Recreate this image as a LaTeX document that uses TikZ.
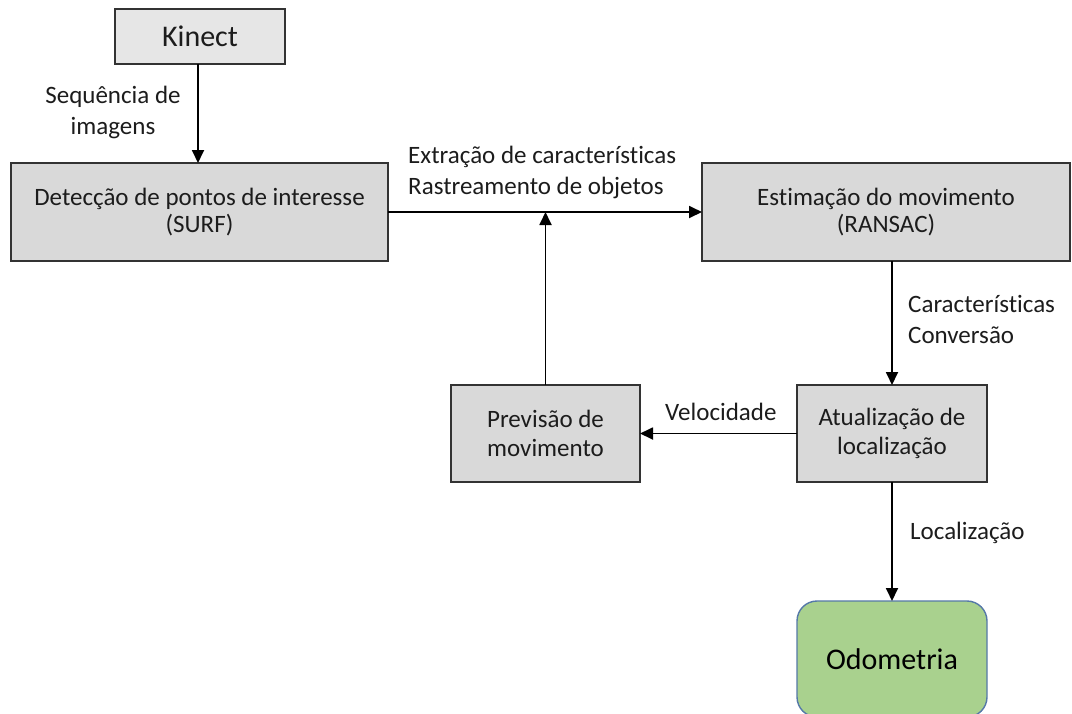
\documentclass[tikz,border=0pt]{standalone}
\usepackage{fontspec}
\setmainfont{Carlito}[Ligatures=NoCommon]
\usetikzlibrary{arrows.meta}

\definecolor{boxgray}{HTML}{D9D9D9}
\definecolor{lightgray}{HTML}{E6E6E6}
\definecolor{edgegray}{HTML}{333333}
\definecolor{odogreen}{HTML}{A9D18E}
\definecolor{odoblue}{HTML}{5578A8}
\definecolor{ink}{HTML}{1C1C1C}

\tikzset{
  procbox/.style={draw=edgegray, fill=boxgray, line width=1.8pt, inner sep=0pt,
    outer sep=0pt, align=center, text=ink, font=\fontsize{25}{28.5}\selectfont},
  flow/.style={line width=1.8pt, draw=black,
    -{Triangle[length=13pt,width=12pt]}},
  lbl/.style={text=ink, inner sep=0pt, font=\fontsize{25}{31}\selectfont}
}

\begin{document}
\begin{tikzpicture}[x=1pt,y=-1pt]
  \useasboundingbox (0,0) rectangle (1072,713);

  % process blocks
  \node[procbox, fill=lightgray, minimum width=170pt, minimum height=55pt,
        font=\fontsize{30}{34}\selectfont] (kin) at (200,36.5) {Kinect};
  \node[procbox, minimum width=377pt, minimum height=98pt] (det) at (199.5,212)
        {\raisebox{-2pt}{Detecção de pontos de interesse}\\(SURF)};
  \node[procbox, minimum width=368pt, minimum height=98pt] (est) at (886,212)
        {\raisebox{-2pt}{Estimação do movimento}\\(RANSAC)};
  \node[procbox, minimum width=189pt, minimum height=97pt] (prev) at (545.5,433.5)
        {Previsão de\\movimento};
  \node[procbox, minimum width=190pt, minimum height=97pt] (atu) at (892,433.5)
        {Atualização de\\localização};
  \node[draw=odoblue, fill=odogreen, line width=1.4pt, rounded corners=20pt,
        minimum width=190pt, minimum height=116pt, inner sep=0pt, outer sep=0pt,
        text=black, font=\fontsize{30}{34}\selectfont] (odo) at (892,659) {Odometria};

  % connectors
  \coordinate (join) at (prev.north |- det.east);
  \draw[flow] (kin.south -| 198,0) -- (det.north -| 198,0);
  \draw[flow] (det.east) -- (est.west);
  \draw[flow] (prev.north) -- (join);
  \draw[flow] (atu.north |- est.south) -- (atu.north);
  \draw[flow] (atu.west) -- (prev.east);
  \draw[flow] (atu.south) -- (odo.north);

  % connector labels
  \node[lbl, align=center] (l1) at (113,112) {Sequência de\\imagens};
  \node[lbl, align=left, anchor=west] (l2) at (408,172)
        {Extração de características\\Rastreamento de objetos};
  \node[lbl, align=left, anchor=west] (l3) at (908,319) {Características\\Conversão};
  \node[lbl, anchor=west] (l4) at (665,412) {Velocidade};
  \node[lbl, anchor=west] (l5) at (910,533) {Localização};
\end{tikzpicture}
\end{document}
